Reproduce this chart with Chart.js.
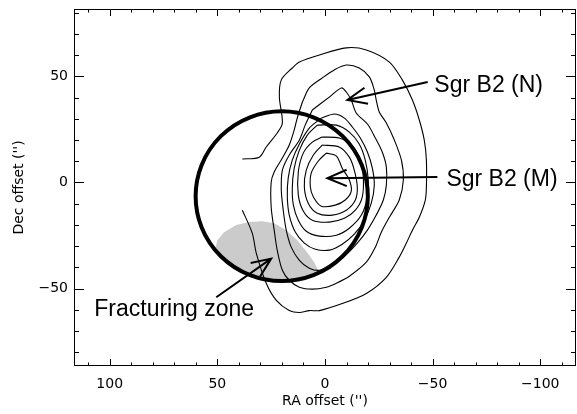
<!DOCTYPE html>
<html><head><meta charset="utf-8">
<script src="https://cdn.jsdelivr.net/npm/chart.js@4"></script>
<style>html,body{margin:0;padding:0;background:#fff}#wrap{width:577px;height:414px}</style>
</head><body><div id="wrap"><canvas id="c" width="577" height="414"></canvas></div>
<script>
// Axis ranges (arcsec offsets) and tick steps
const xRange = [-116.6, 116.6];
const yRange = [-86.5, 81.7];
const majorStep = 50;
const minorStep = 10;
const xTitle = "RA offset ('')";
const yTitle = "Dec offset ('')";

// Contour levels, outermost to innermost: [RA offset, Dec offset]
const contour1 = [[38.4,11.0],[30.5,11.9],[27.3,16.7],[22.2,23.3],[19.8,28.0],[21.2,40.2],[20.3,48.3],[15.2,53.9],[11.9,56.7],[2.6,60.0],[-9.9,63.4],[-19.2,62.4],[-29.9,56.7],[-35.9,48.3],[-40.6,38.8],[-43.8,29.4],[-46.1,20.0],[-47.1,10.5],[-47.1,-2.2],[-46.6,-8.3],[-43.8,-16.4],[-40.6,-22.5],[-37.8,-28.6],[-34.5,-35.2],[-28.5,-44.7],[-19.2,-52.3],[-8.0,-57.1],[2.6,-60.4],[7.3,-60.4],[11.9,-61.3],[16.6,-60.4],[22.6,-55.6],[27.3,-47.5],[31.9,-33.4],[33.8,-23.9],[38.4,-13.1]];
const contour2 = [[10.5,37.9],[7.3,44.5],[1.3,49.2],[-4.3,53.0],[-9.9,55.3],[-15.9,53.9],[-20.6,49.7],[-22.9,43.5],[-23.8,38.8],[-25.2,33.2],[-28.5,28.0],[-32.2,20.0],[-35.5,10.5],[-36.4,1.1],[-34.5,-8.3],[-29.9,-16.4],[-26.2,-23.4],[-23.4,-30.5],[-19.2,-37.6],[-11.3,-44.2],[-5.3,-47.5],[-0.6,-49.4],[5.9,-50.3],[11.9,-49.4],[16.6,-46.1],[19.8,-41.4],[22.2,-31.9],[23.6,-22.5],[25.0,-11.7],[25.0,0.1],[23.6,4.9],[19.8,11.5],[16.6,17.6],[14.3,24.7],[12.9,30.3],[10.5,37.9]];
const contour3 = [[5.9,34.1],[-2.0,40.2],[-7.6,44.5],[-9.9,42.6],[-12.2,38.8],[-14.5,32.7],[-19.7,27.5],[-23.4,20.9],[-26.6,14.3],[-28.5,7.2],[-28.5,-1.3],[-27.1,-8.3],[-23.8,-15.4],[-19.7,-22.5],[-15.0,-28.6],[-9.0,-34.8],[-2.9,-39.0],[2.6,-41.4],[7.3,-40.4],[11.9,-36.7],[15.7,-30.5],[18.0,-22.5],[19.4,-13.1],[20.3,-3.6],[19.8,5.8],[16.6,12.9],[11.9,20.0],[9.2,27.0],[5.9,34.1]];
const contour4 = [[1.7,30.3],[-4.3,32.2],[-9.0,30.3],[-12.7,26.1],[-16.4,20.9],[-19.7,14.3],[-22.0,6.7],[-22.9,-1.3],[-21.5,-9.8],[-18.3,-17.8],[-13.6,-24.4],[-8.0,-29.1],[-2.0,-31.9],[4.5,-31.5],[9.6,-28.6],[13.8,-23.4],[16.6,-15.4],[17.5,-6.9],[17.1,2.0],[15.2,10.5],[11.9,18.1],[7.3,25.6],[1.7,30.3]];
const contour5 = [[3.6,27.0],[-5.3,27.0],[-11.3,23.7],[-15.9,18.1],[-18.7,10.5],[-20.1,1.1],[-19.7,-6.9],[-16.9,-15.4],[-11.3,-21.6],[-5.3,-24.9],[2.6,-25.3],[8.7,-23.0],[12.4,-17.8],[14.7,-10.7],[15.2,-2.7],[14.3,6.7],[11.9,15.2],[8.2,22.3],[3.6,27.0]];
const contour6 = [[1.3,21.4],[-6.6,20.9],[-12.7,17.1],[-16.4,10.5],[-17.8,2.5],[-17.3,-6.9],[-14.1,-13.1],[-9.0,-16.9],[-2.0,-18.7],[5.9,-17.8],[10.1,-13.5],[12.4,-6.0],[12.4,4.9],[10.1,13.8],[5.9,19.0],[1.3,21.4]];
const contour7 = [[1.3,17.6],[-6.6,16.7],[-11.3,11.9],[-13.6,5.8],[-15.0,-2.2],[-14.1,-8.3],[-9.9,-13.1],[-3.4,-15.4],[3.6,-14.5],[7.8,-9.8],[9.6,-2.2],[8.7,5.8],[5.4,12.9],[1.3,17.6]];
const contour8 = [[-0.6,13.8],[-5.3,12.4],[-8.0,6.7],[-11.3,1.1],[-12.2,-4.1],[-9.4,-8.3],[-4.8,-10.7],[1.7,-11.2],[5.4,-6.9],[6.8,-2.2],[6.4,4.4],[3.1,10.1],[-0.6,13.8]];
const contours = [contour1, contour2, contour3, contour4, contour5, contour6, contour7, contour8];

// Beam circle: centre and radius (arcsec)
const beamCenter = [20.1, -6.5];
const beamRadius = [40];

// Shaded fracturing zone outline (clipped to the beam)
const zoneOutline = [[51.4,-33.0],[50.0,-27.2],[46.8,-23.4],[41.2,-20.1],[35.2,-18.7],[29.1,-18.3],[23.6,-19.2],[18.0,-22.5],[12.9,-27.2],[8.7,-32.4],[5.0,-37.6],[2.2,-43.7],[0.3,-53.1],[51.4,-53.1]];

// Annotation arrows: [tail, tip]
const arrowN = [[-47.7,47.3],[-10.4,38.8]];
const arrowM = [[-52.2,2.5],[-1.1,2.0]];
const arrowZone = [[50.5,-54.1],[25.0,-35.9]];
const arrows = [arrowN, arrowM, arrowZone];

// Annotation labels and their positions (left, baseline)
const labelTexts = ["Sgr B2 (N)", "Sgr B2 (M)", "Fracturing zone"];
const labelPos = [[-50.8,42.6],[-56.4,-1.5],[107.2,-62.8]];

const fmt = v => v < 0 ? '\u2212' + Math.abs(v) : String(v);
const axisFont = {family: 'DejaVu Sans', size: 14};

const overlay = {
  id: 'overlay',
  beforeDatasetsDraw(chart) {
    const {ctx, chartArea: a, scales: {x, y}} = chart;
    const cx = x.getPixelForValue(beamCenter[0]), cy = y.getPixelForValue(beamCenter[1]);
    const rx = Math.abs(x.getPixelForValue(beamCenter[0] + beamRadius[0]) - cx);
    const ry = Math.abs(y.getPixelForValue(beamCenter[1] + beamRadius[0]) - cy);
    ctx.save();
    ctx.beginPath(); ctx.rect(a.left, a.top, a.right - a.left, a.bottom - a.top); ctx.clip();
    ctx.beginPath(); ctx.ellipse(cx, cy, rx, ry, 0, 0, Math.PI * 2); ctx.clip();
    ctx.beginPath();
    zoneOutline.forEach(([vx, vy], i) => {
      const px = x.getPixelForValue(vx), py = y.getPixelForValue(vy);
      i ? ctx.lineTo(px, py) : ctx.moveTo(px, py);
    });
    ctx.closePath();
    ctx.fillStyle = '#cbcbcb';
    ctx.fill();
    ctx.restore();
  },
  afterDatasetsDraw(chart) {
    const {ctx, chartArea: a, scales: {x, y}} = chart;
    const cx = x.getPixelForValue(beamCenter[0]), cy = y.getPixelForValue(beamCenter[1]);
    const rx = Math.abs(x.getPixelForValue(beamCenter[0] + beamRadius[0]) - cx);
    const ry = Math.abs(y.getPixelForValue(beamCenter[1] + beamRadius[0]) - cy);
    ctx.save();
    ctx.beginPath(); ctx.ellipse(cx, cy, rx, ry, 0, 0, Math.PI * 2);
    ctx.lineWidth = 4; ctx.strokeStyle = '#000'; ctx.stroke();
    ctx.lineWidth = 2; ctx.lineCap = 'butt';
    arrows.forEach(([t, h]) => {
      const tx = x.getPixelForValue(t[0]), ty = y.getPixelForValue(t[1]);
      const hx = x.getPixelForValue(h[0]), hy = y.getPixelForValue(h[1]);
      const ang = Math.atan2(ty - hy, tx - hx);
      const L = 21, da = 23 * Math.PI / 180;
      ctx.beginPath();
      ctx.moveTo(tx, ty); ctx.lineTo(hx, hy);
      ctx.moveTo(hx + L * Math.cos(ang - da), hy + L * Math.sin(ang - da));
      ctx.lineTo(hx, hy);
      ctx.lineTo(hx + L * Math.cos(ang + da), hy + L * Math.sin(ang + da));
      ctx.stroke();
    });
    ctx.lineWidth = 1; ctx.strokeStyle = '#000';
    ctx.strokeRect(a.left + 0.5, a.top + 0.5, a.right - a.left - 1, a.bottom - a.top - 1);
    ctx.beginPath();
    x.ticks.forEach(t => {
      const px = Math.round(x.getPixelForValue(t.value)) + 0.5;
      const len = t.value % majorStep === 0 ? 7 : 3.5;
      ctx.moveTo(px, a.bottom); ctx.lineTo(px, a.bottom - len);
      ctx.moveTo(px, a.top); ctx.lineTo(px, a.top + len);
    });
    y.ticks.forEach(t => {
      const py = Math.round(y.getPixelForValue(t.value)) + 0.5;
      const len = t.value % majorStep === 0 ? 10 : 5;
      ctx.moveTo(a.left, py); ctx.lineTo(a.left + len, py);
      ctx.moveTo(a.right, py); ctx.lineTo(a.right - len, py);
    });
    ctx.stroke();
    ctx.restore();
  },
  afterDraw(chart) {
    const {ctx, scales: {x, y}} = chart;
    ctx.save();
    ctx.fillStyle = '#000';
    ctx.font = '23px "Liberation Sans", Arial, sans-serif';
    ctx.textAlign = 'left'; ctx.textBaseline = 'alphabetic';
    labelTexts.forEach((s, i) => {
      ctx.fillText(s, x.getPixelForValue(labelPos[i][0]), y.getPixelForValue(labelPos[i][1]));
    });
    ctx.restore();
  }
};

new Chart(document.getElementById('c'), {
  type: 'scatter',
  data: {
    datasets: contours.map(c => ({
      data: c.map(([vx, vy]) => ({x: vx, y: vy})),
      showLine: true, borderColor: '#000', borderWidth: 1.1,
      pointRadius: 0, pointHoverRadius: 0, tension: 0.3, fill: false
    }))
  },
  options: {
    responsive: false, animation: false, devicePixelRatio: 1,
    layout: {padding: {top: 9, right: 1, left: 0, bottom: 0}},
    plugins: {legend: {display: false}, tooltip: {enabled: false}},
    events: [],
    scales: {
      x: {
        type: 'linear', reverse: true, min: xRange[0], max: xRange[1],
        grid: {display: false, drawTicks: false}, border: {display: false},
        ticks: {stepSize: minorStep, autoSkip: false, includeBounds: false, maxRotation: 0,
          padding: 10, color: '#000', font: axisFont,
          callback: v => v % majorStep === 0 ? fmt(v) : ''},
        title: {display: true, text: xTitle, color: '#000', font: axisFont, padding: {top: 0, bottom: 4}},
        afterFit: s => { s.height = 48; s.paddingLeft = 0; s.paddingRight = 0; s.paddingTop = 0; s.paddingBottom = 0; }
      },
      y: {
        type: 'linear', min: yRange[0], max: yRange[1],
        grid: {display: false, drawTicks: false}, border: {display: false},
        ticks: {stepSize: minorStep, autoSkip: false, includeBounds: false,
          padding: 6, color: '#000', font: axisFont,
          callback: v => v % majorStep === 0 ? fmt(v) : ''},
        title: {display: true, text: yTitle, color: '#000', font: axisFont, padding: {top: 11, bottom: 0}},
        afterFit: s => { s.width = 74; s.paddingLeft = 0; s.paddingRight = 0; s.paddingTop = 0; s.paddingBottom = 0; }
      }
    }
  },
  plugins: [overlay]
});
</script>
</body></html>
